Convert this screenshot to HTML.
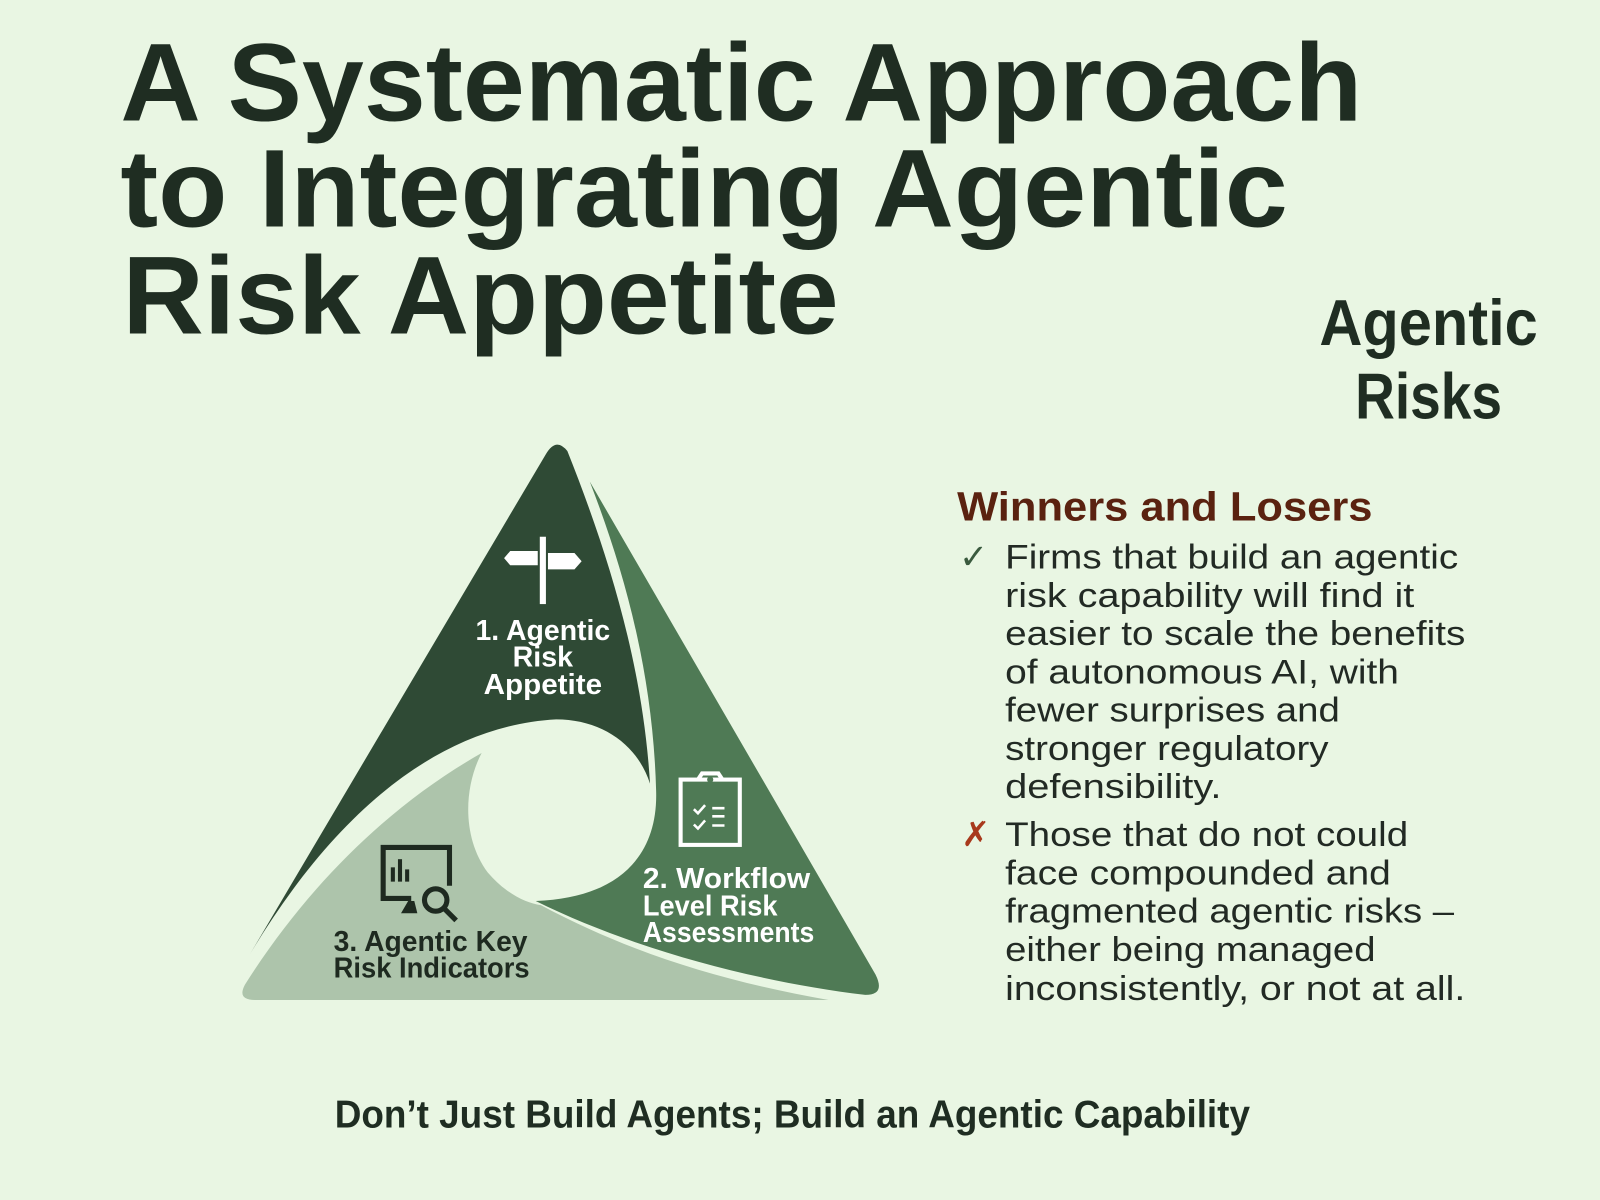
<!DOCTYPE html>
<html><head><meta charset="utf-8"><style>
html,body{margin:0;padding:0;background:#e9f6e3;}
svg{display:block}
text{font-family:"Liberation Sans",sans-serif;}
</style></head><body>
<svg width="1600" height="1200" viewBox="0 0 1568 1176" preserveAspectRatio="none" xmlns="http://www.w3.org/2000/svg">
<rect width="1568" height="1176" fill="#e9f6e3"/>
<g fill="#1f2d22" font-weight="bold">
<text x="118" y="118" font-size="108" textLength="1217" lengthAdjust="spacingAndGlyphs">A Systematic Approach</text>
<text x="118" y="222" font-size="108" textLength="1144" lengthAdjust="spacingAndGlyphs">to Integrating Agentic</text>
<text x="120" y="327" font-size="108" textLength="702" lengthAdjust="spacingAndGlyphs">Risk Appetite</text>
<text x="1293" y="338" font-size="64" textLength="214" lengthAdjust="spacingAndGlyphs">Agentic</text>
<text x="1328" y="410" font-size="64" textLength="144" lengthAdjust="spacingAndGlyphs">Risks</text>
<text x="328" y="1105" font-size="38" textLength="897" lengthAdjust="spacingAndGlyphs">Don’t Just Build Agents; Build an Agentic Capability</text>
</g>
<text x="938" y="510" font-size="40" font-weight="bold" fill="#5a2210" textLength="407" lengthAdjust="spacingAndGlyphs">Winners and Losers</text>
<g fill="#222a24" font-size="34">
<text x="940" y="557" fill="#3a5a3e">✓</text>
<text x="985" y="557" textLength="444" lengthAdjust="spacingAndGlyphs">Firms that build an agentic</text>
<text x="985" y="595" textLength="401" lengthAdjust="spacingAndGlyphs">risk capability will find it</text>
<text x="985" y="632" textLength="451" lengthAdjust="spacingAndGlyphs">easier to scale the benefits</text>
<text x="985" y="670" textLength="386" lengthAdjust="spacingAndGlyphs">of autonomous AI, with</text>
<text x="985" y="707" textLength="328" lengthAdjust="spacingAndGlyphs">fewer surprises and</text>
<text x="985" y="745" textLength="317" lengthAdjust="spacingAndGlyphs">stronger regulatory</text>
<text x="985" y="782" textLength="212" lengthAdjust="spacingAndGlyphs">defensibility.</text>
<text x="942" y="829" fill="#a8391c">✗</text>
<text x="985" y="829" textLength="395" lengthAdjust="spacingAndGlyphs">Those that do not could</text>
<text x="985" y="867" textLength="378" lengthAdjust="spacingAndGlyphs">face compounded and</text>
<text x="985" y="904" textLength="440" lengthAdjust="spacingAndGlyphs">fragmented agentic risks –</text>
<text x="985" y="942" textLength="363" lengthAdjust="spacingAndGlyphs">either being managed</text>
<text x="985" y="980" textLength="451" lengthAdjust="spacingAndGlyphs">inconsistently, or not at all.</text>
</g>
<!-- triangle pieces -->
<path d="M535,445 Q545,428 556,442 C595,540 630,650 637,768 C625,730 590,705 545,705 C420,712 320,810 245,935 Z" fill="#2f4a35"/>
<path d="M578,472 L858,955 Q868,975 848,975 C740,962 620,930 525,883 C605,880 645,840 643,775 C640,660 612,560 578,472 Z" fill="#4f7a55"/>
<path d="M472,738 C455,770 452,820 478,855 C495,875 515,885 530,887 C620,935 710,962 812,980 L250,980 Q232,980 240,965 C300,870 380,790 472,738 Z" fill="#adc4ab"/>
<!-- signpost -->
<g fill="#ffffff">
<rect x="529" y="526" width="6" height="66"/>
<path d="M500,540 L527,540 L527,554 L500,554 L494,547 Z"/>
<path d="M537,542 L563,542 L570,550 L563,558 L537,558 Z"/>
</g>
<text x="532" y="627" font-size="28" font-weight="bold" fill="#fff" text-anchor="middle" textLength="132" lengthAdjust="spacingAndGlyphs">1. Agentic</text>
<text x="532" y="653" font-size="28" font-weight="bold" fill="#fff" text-anchor="middle">Risk</text>
<text x="532" y="680" font-size="28" font-weight="bold" fill="#fff" text-anchor="middle" textLength="116" lengthAdjust="spacingAndGlyphs">Appetite</text>
<!-- clipboard -->
<g fill="none" stroke="#fff" stroke-width="4">
<rect x="667" y="764" width="58" height="64"/>
<path d="M684,764 L688,758 L704,758 L708,764"/>
<path d="M680,793 l4,4 l7,-8 M680,808 l4,4 l7,-8" stroke-width="2.5"/>
<path d="M698,792 h12 M698,800 h12 M698,809 h12" stroke-width="2.5"/>
</g>
<circle cx="696" cy="764" r="3" fill="#4f7a55"/>
<g font-size="28" font-weight="bold" fill="#fff">
<text x="630" y="870" textLength="164" lengthAdjust="spacingAndGlyphs">2. Workflow</text>
<text x="630" y="897" textLength="132" lengthAdjust="spacingAndGlyphs">Level Risk</text>
<text x="630" y="923" textLength="168" lengthAdjust="spacingAndGlyphs">Assessments</text>
</g>
<!-- monitor icon -->
<g fill="#1e2a20">
<path d="M373,828 h70 v40 h-5 v-35 h-60 v45 h25 v5 h-30 Z"/>
<rect x="383" y="850" width="4" height="14"/><rect x="390" y="842" width="4" height="22"/><rect x="397" y="852" width="4" height="12"/>
<path d="M393,895 l7,-12 h6 l3,12 Z"/>
</g>
<circle cx="427" cy="882" r="11" fill="none" stroke="#1e2a20" stroke-width="5"/>
<path d="M435,890 l12,12" stroke="#1e2a20" stroke-width="5"/>
<g font-size="28" font-weight="bold" fill="#1e2a20">
<text x="327" y="932" textLength="190" lengthAdjust="spacingAndGlyphs">3. Agentic Key</text>
<text x="327" y="958" textLength="192" lengthAdjust="spacingAndGlyphs">Risk Indicators</text>
</g>
</svg>
</body></html>
